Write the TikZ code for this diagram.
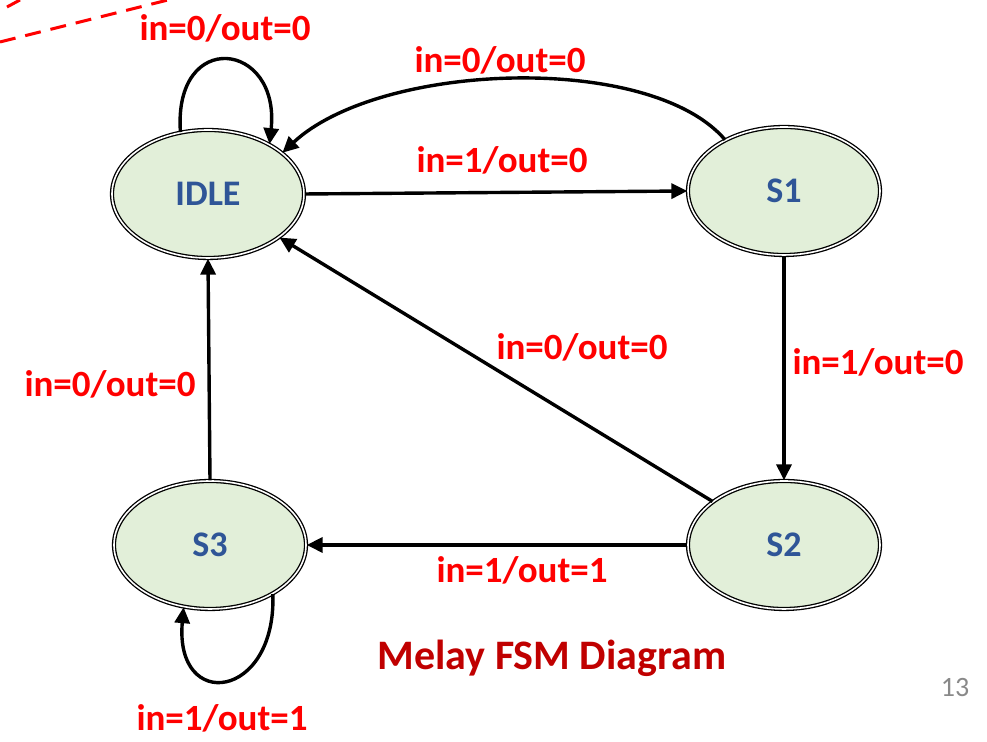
\documentclass[tikz,border=0pt]{standalone}
\usepackage{fontspec}
\setmainfont{Carlito}
\usetikzlibrary{arrows.meta,shapes.geometric}
\definecolor{StateFill}{RGB}{226,239,217}
\definecolor{StateText}{RGB}{47,85,151}
\definecolor{LabelClr}{RGB}{255,0,0}
\definecolor{TitleClr}{RGB}{192,0,0}
\definecolor{PageClr}{RGB}{137,137,137}

\tikzset{
  state/.style={ellipse,draw,double,line width=0.65pt,double distance=0.8pt,
    fill=StateFill,minimum width=96pt,minimum height=64pt,inner sep=0pt,
    text=StateText,font=\fontsize{18}{20}\selectfont\bfseries},
  trans/.style={line width=1.7pt,-{Triangle[length=8pt,width=7.5pt]}},
  cond/.style={text=LabelClr,font=\fontsize{18.5}{20}\selectfont\bfseries,inner sep=1pt}
}

\begin{document}
\begin{tikzpicture}[x=0.5pt,y=0.5pt]
\useasboundingbox (0,0) rectangle (987,742);

% callout edge at the corner
\draw[LabelClr,line width=1.5pt,dash pattern=on 8pt off 5pt] (0,700) -- (168,742);
\draw[LabelClr,line width=1.5pt] (7,735) -- (20,742);

% states
\node[state] (IDLE) at (208,548) {IDLE};
\node[state] (S1) at (784,551) {S1};
\node[state] (S2) at (784,197) {S2};
\node[state] (S3) at (210,197) {S3};

% transitions
\draw[trans] (IDLE.114) .. controls +(94:104) and +(84:104) .. (IDLE.39);
\draw[trans] (S1.139) .. controls (650,690) and (380,680) .. (IDLE.29);
\draw[trans] (IDLE.east) -- (S1.west);
\draw[trans] (S1.south) -- (S2.north);
\draw[trans] (S2) -- (IDLE);
\draw[trans] (S2.west) -- (S3.east);
\draw[trans] (S3.north) -- (IDLE.south);
\draw[trans] (S3.-38) .. controls +(-88:106) and +(-95:106) .. (S3.-113);

% conditions
\node[cond] (cIdle) at (225,714) {in=0/out=0};
\node[cond] (cBack) at (500,682) {in=0/out=0};
\node[cond] (cGo) at (502,582) {in=1/out=0};
\node[cond] (cDown) at (878,380) {in=1/out=0};
\node[cond] (cDiag) at (582,395) {in=0/out=0};
\node[cond] (cUp) at (110,358) {in=0/out=0};
\node[cond] (cOut) at (522,172) {in=1/out=1};
\node[cond] (cStay) at (222,24) {in=1/out=1};

\node[text=TitleClr,font=\fontsize{21}{24}\selectfont\bfseries] (title) at (552,84) {Melay FSM Diagram};
\node[text=PageClr,font=\fontsize{14}{16}\selectfont] (page) at (955,54) {13};

\end{tikzpicture}
\end{document}
